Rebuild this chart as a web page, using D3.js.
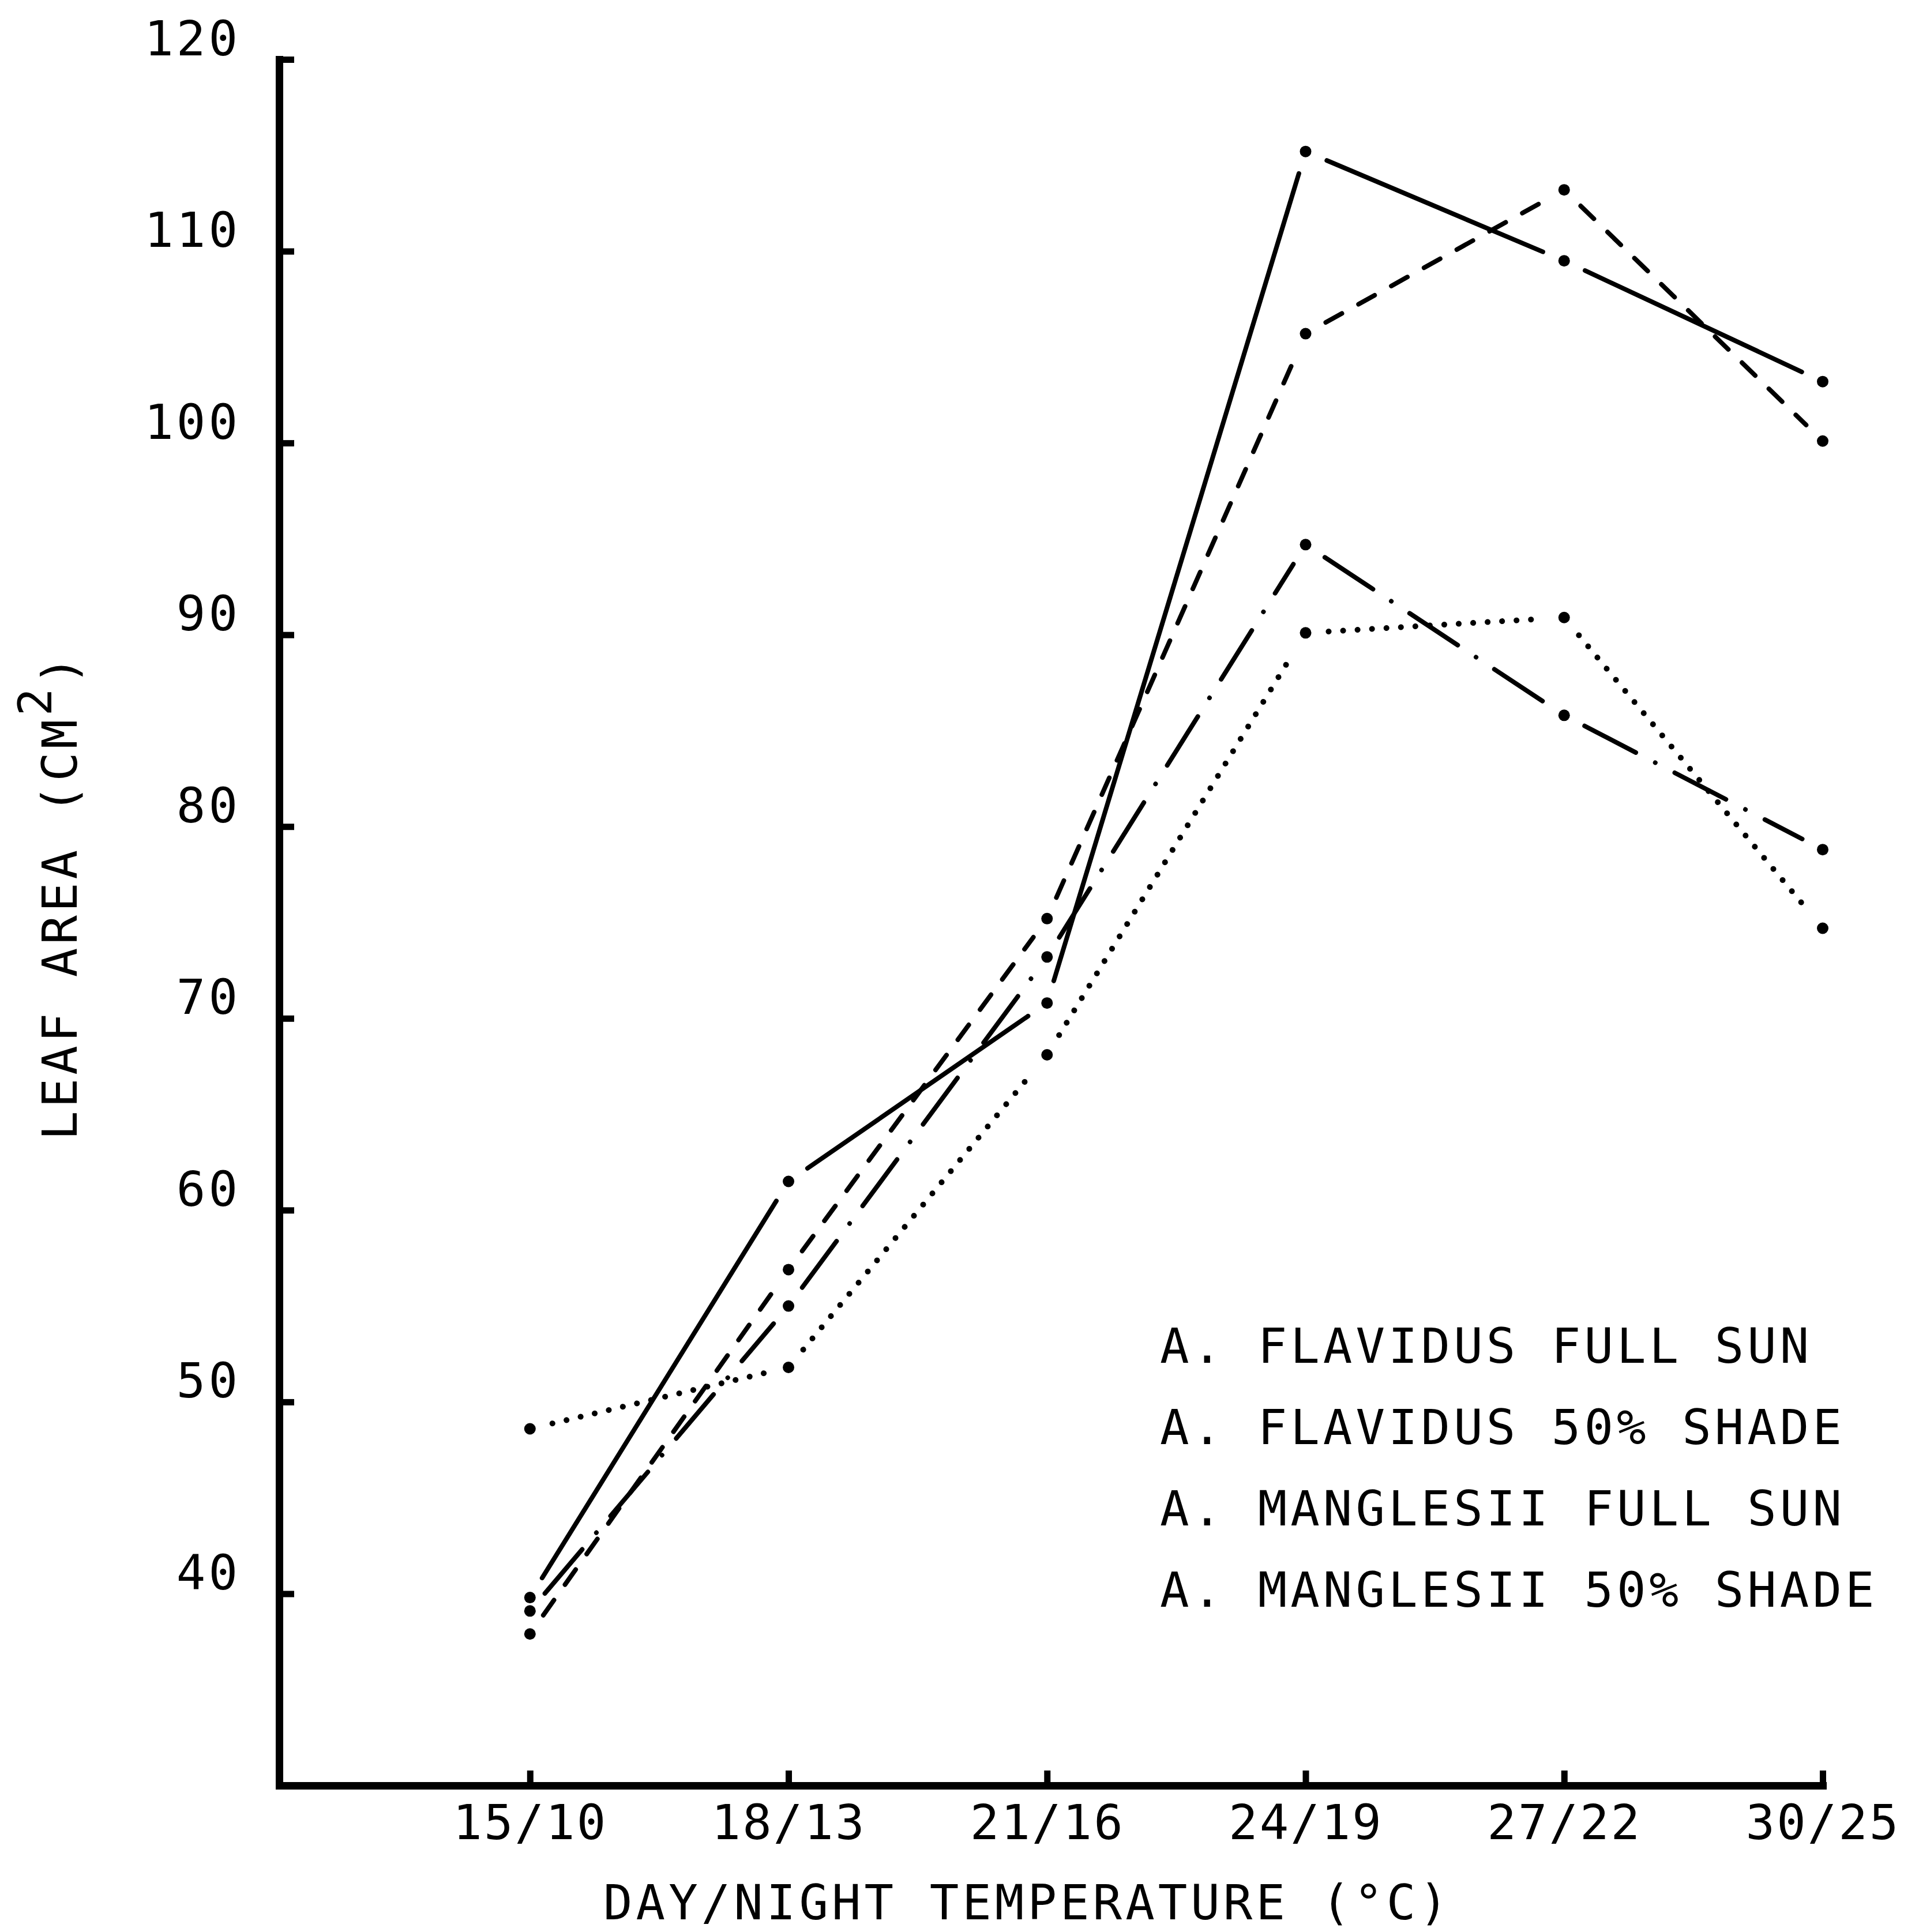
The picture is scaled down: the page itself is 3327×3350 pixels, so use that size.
<!DOCTYPE html>
<html>
<head>
<meta charset="utf-8">
<script src="https://cdnjs.cloudflare.com/ajax/libs/d3/7.8.5/d3.min.js"></script>
<style>
  body { margin: 0; background: #fff; }
  svg text { font-family: "DejaVu Sans Mono", "Liberation Mono", monospace; fill: #000; }
</style>
</head>
<body>
<svg id="chart" width="3327" height="3350"></svg>
<script>
// day/night temperature regimes on the x axis
const temps = ["15/10", "18/13", "21/16", "24/19", "27/22", "30/25"]

// leaf area (cm2)
const flavidusSun    = [39.8, 61.5, 70.8, 115.2, 109.5, 103.2]
const flavidusShade  = [37.9, 56.9, 75.2, 105.7, 113.2, 100.1]
const manglesiiSun   = [39.1, 55.0, 73.2, 94.7, 85.8, 78.8]
const manglesiiShade = [48.6, 51.8, 68.1, 90.1, 90.9, 74.7]

const yTicks = [40, 50, 60, 70, 80, 90, 100, 110, 120]
const legendLabels = [
    "A. FLAVIDUS FULL SUN",
    "A. FLAVIDUS 50% SHADE",
    "A. MANGLESII FULL SUN",
    "A. MANGLESII 50% SHADE",
]

// line styles, one per series (no legend swatches in the original)
const series = [
    { values: flavidusSun,    dash: null,            width: 8,  cap: "round" },
    { values: flavidusShade,  dash: "32,33",         width: 8,  cap: "round" },
    { values: manglesiiSun,   dash: "100,38,0.1,38", width: 8,  cap: "round" },
    { values: manglesiiShade, dash: "0.1,25",        width: 10, cap: "round" },
]

const svg = d3.select("#chart")
svg.append("rect").attr("width", 3327).attr("height", 3350).attr("fill", "#fff")

// x is a category index; the axis starts about one step before the first regime
const x = d3.scaleLinear().domain([-0.97, 5]).range([484, 3160])
const y = d3.scaleLinear().domain([30, 120]).range([3096, 103])

// y axis, ticks pointing inward
const yAxis = svg.append("g")
    .attr("transform", `translate(${x(-0.97)},0)`)
    .call(d3.axisLeft(y).tickValues(yTicks).tickSizeInner(-26).tickSizeOuter(0).tickPadding(67))
yAxis.select(".domain").attr("stroke-width", 13).attr("stroke-linecap", "square")
yAxis.selectAll(".tick line").attr("stroke-width", 11)
yAxis.selectAll(".tick text")
    .attr("dy", null).attr("y", -8)
    .attr("font-size", 84).attr("letter-spacing", 5)

// x axis
const xAxis = svg.append("g")
    .attr("transform", `translate(0,${y(30)})`)
    .call(d3.axisBottom(x).tickValues(d3.range(temps.length)).tickFormat(i => temps[i])
        .tickSizeInner(-26).tickSizeOuter(0).tickPadding(93))
xAxis.select(".domain").attr("stroke-width", 13).attr("stroke-linecap", "square")
xAxis.selectAll(".tick line").attr("stroke-width", 11)
xAxis.selectAll(".tick text")
    .attr("dy", null)
    .attr("font-size", 84).attr("letter-spacing", 3)
svg.selectAll("g").attr("font-family", null)

// axis titles
svg.append("text")
    .attr("x", 1046).attr("y", 3328)
    .attr("font-size", 84).attr("letter-spacing", 6)
    .text("DAY/NIGHT TEMPERATURE (°C)")

const yTitle = svg.append("text")
    .attr("transform", "translate(133,1977) rotate(-90)")
    .attr("font-size", 84).attr("letter-spacing", 6)
yTitle.append("tspan").text("LEAF AREA (CM")
yTitle.append("tspan").attr("font-size", 80).attr("dy", -44).text("2")
yTitle.append("tspan").attr("dy", 44).text(")")

// lines: each segment stops short of its markers, as in the original
const gap = 40
const seg = d3.line()
series.forEach(s => {
    const pts = s.values.map((v, i) => [x(i), y(v)])
    d3.pairs(pts).forEach(([a, b]) => {
        const dx = b[0] - a[0], dy = b[1] - a[1]
        const len = Math.hypot(dx, dy)
        const ux = dx / len, uy = dy / len
        svg.append("path")
            .attr("d", seg([[a[0] + ux * gap, a[1] + uy * gap], [b[0] - ux * gap, b[1] - uy * gap]]))
            .attr("fill", "none")
            .attr("stroke", "#000")
            .attr("stroke-width", s.width)
            .attr("stroke-linecap", s.cap)
            .attr("stroke-dasharray", s.dash)
    })
    svg.append("g").selectAll("circle")
        .data(s.values)
        .join("circle")
        .attr("cx", (d, i) => x(i))
        .attr("cy", d => y(d))
        .attr("r", 10)
        .attr("fill", "#000")
})

// legend (text only)
svg.append("g").selectAll("text")
    .data(legendLabels)
    .join("text")
    .attr("x", 2011)
    .attr("y", (d, i) => 2363 + i * 141)
    .attr("font-size", 84)
    .attr("letter-spacing", 6)
    .text(d => d)
</script>
</body>
</html>
